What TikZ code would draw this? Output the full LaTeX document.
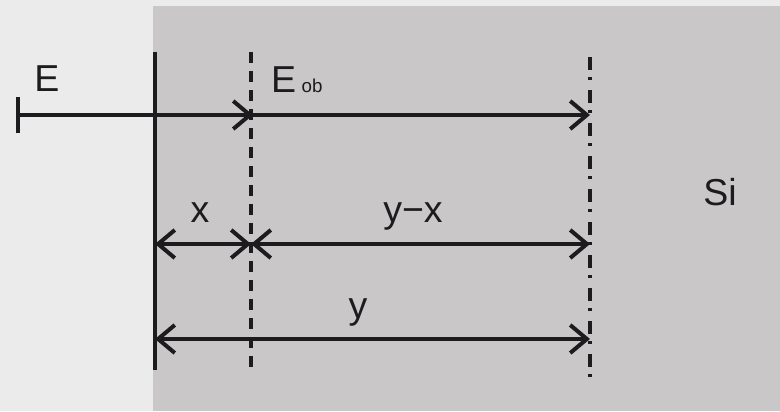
\documentclass[tikz,border=0pt]{standalone}
\usepackage{fontspec}
\setmainfont{Liberation Sans}
\usetikzlibrary{arrows.meta}
\definecolor{paper}{HTML}{ECEBEB}
\definecolor{sigray}{HTML}{C9C7C8}
\definecolor{ink}{HTML}{1C1C1E}

\begin{document}
\begin{tikzpicture}[
    x=0.03cm, y=-0.03cm,
    line width=0.12cm,
    barb/.tip={Straight Barb[length=0.5cm, width=0.84cm]},
    vec/.style={draw=ink, -barb},
    span/.style={draw=ink, barb-barb},
    lbl/.style={text=ink, inner sep=0pt, anchor=base, font=\fontsize{32}{36}\selectfont},
  ]
  \useasboundingbox[fill=paper] (0,0) rectangle (780,411);
  % ---- silicon block ----
  \fill[sigray] (153,6) rectangle (780,411);

  % ---- vertical markers ----
  \coordinate (surf top) at (155,52);
  \coordinate (surf bot) at (155,370);
  \coordinate (ob top) at (251,52);
  \coordinate (ob bot) at (251,370);
  \coordinate (si top) at (590,57);
  \coordinate (si bot) at (590,380);
  \draw[ink] (surf top) -- (surf bot);
  \draw[ink, line width=0.1cm, dash pattern=on 0.33cm off 0.24cm] (ob top) -- (ob bot);
  \draw[ink, line width=0.1cm,
        dash pattern=on 0.39cm off 0.21cm on 0.09cm off 0.3cm] (si top) -- (si bot);

  % ---- field arrow ----
  \coordinate (E start) at (16,115);
  \coordinate (E mid) at (253,115);
  \coordinate (E end) at (590,115);
  \draw[ink, {Bar[width=1.08cm]}-barb] (E start) -- (E mid);
  \draw[vec] (E mid) -- (E end);

  % ---- spans ----
  \coordinate (x0) at (155,244);
  \coordinate (x1) at (251,244);
  \coordinate (x2) at (590,244);
  \coordinate (y0) at (155,339);
  \coordinate (y2) at (590,339);
  \draw[span] (x0) -- (x1);
  \draw[span] (x1) -- (x2);
  \draw[span] (y0) -- (y2);

  % ---- labels ----
  \node[lbl] (lblE) at (47,91) {E};
  \node[lbl, anchor=base west] (lblEob) at (269,92)
    {E\hspace{0.15em}{\fontsize{16}{18}\selectfont ob}};
  \node[lbl] (lblx) at (200,222) {x};
  \node[lbl] (lblyx) at (413,222) {y−x};
  \node[lbl] (lbly) at (358,318) {y};
  \node[lbl] (lblSi) at (720,205) {Si};
\end{tikzpicture}
\end{document}
